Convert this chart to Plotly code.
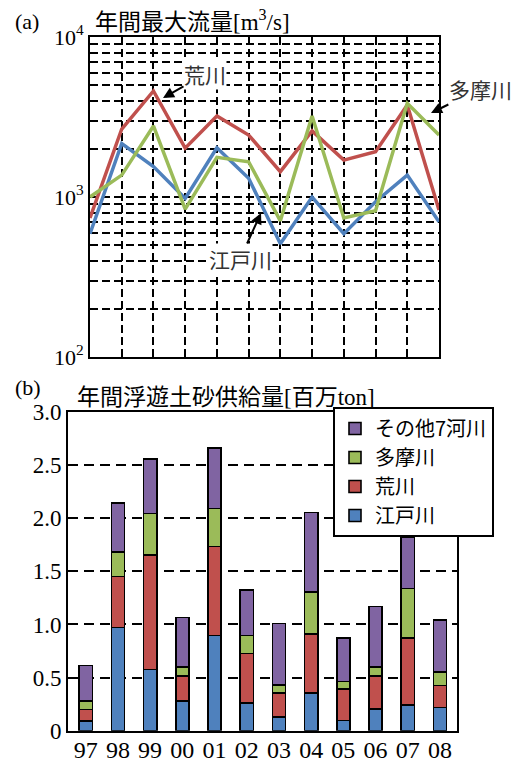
import plotly.graph_objects as go

# ---- data ----
years = ["97", "98", "99", "00", "01", "02", "03", "04", "05", "06", "07", "08"]

# (a) annual maximum discharge [m3/s]
arakawa_q = [740, 2660, 4600, 2020, 3210, 2440, 1440, 2590, 1700, 1920, 3760, 830]
tamagawa_q = [1000, 1370, 2780, 840, 1770, 1660, 710, 3210, 740, 820, 3850, 2440]
edogawa_q = [590, 2160, 1550, 980, 2030, 1310, 510, 1000, 590, 935, 1370, 700]

# (b) annual suspended sediment supply [million ton]
edogawa_s = [0.09, 0.97, 0.575, 0.28, 0.895, 0.26, 0.13, 0.355, 0.095, 0.205, 0.24, 0.22]
arakawa_s = [0.11, 0.48, 1.08, 0.235, 0.84, 0.465, 0.225, 0.555, 0.295, 0.31, 0.635, 0.205]
tamagawa_s = [0.08, 0.23, 0.39, 0.085, 0.355, 0.17, 0.075, 0.395, 0.075, 0.085, 0.465, 0.13]
others_s = [0.335, 0.465, 0.515, 0.465, 0.57, 0.43, 0.58, 0.75, 0.41, 0.57, 0.485, 0.485]

names = ["江戸川", "荒川", "多摩川", "その他7河川"]
colors = ["#4F81BD", "#C0504D", "#9BBB59", "#8064A2"]

W, H = 530, 762
SERIF = "Liberation Serif, Times New Roman, serif"
CJK = "Noto Sans CJK JP, sans-serif"

idx = list(range(len(years)))

fig = go.Figure()

# top lines
for vals, col in [(edogawa_q, colors[0]), (arakawa_q, colors[1]), (tamagawa_q, colors[2])]:
    fig.add_trace(go.Scatter(x=idx, y=vals, mode="lines", line=dict(color=col, width=3.5),
                             xaxis="x", yaxis="y", showlegend=False, hoverinfo="skip"))

# bottom stacked bars
for vals, name, col in zip([edogawa_s, arakawa_s, tamagawa_s, others_s], names, colors):
    fig.add_trace(go.Bar(x=idx, y=vals, name=name, width=0.41,
                         marker=dict(color=col, line=dict(color="black", width=1.6)),
                         xaxis="x2", yaxis="y2"))

# axis definitions
major_tv = [100, 1000, 10000]
major_tt = ["10<sup>2</sup>", "10<sup>3</sup>", "10<sup>4</sup>"]
minor_tv = [v * 100 for v in range(2, 10)] + [v * 1000 for v in range(2, 10)]

fig.update_layout(
    width=W, height=H,
    margin=dict(l=0, r=0, t=0, b=0, autoexpand=False),
    paper_bgcolor="white", plot_bgcolor="white",
    barmode="stack",
    font=dict(family=CJK, color="black"),
    xaxis=dict(domain=[90 / W, 439 / W], range=[0, 11], tickvals=list(range(1, 11)),
               showticklabels=False, ticks="", showgrid=True, gridcolor="black",
               griddash="8px,4px", gridwidth=1.6, showline=True, mirror=True,
               linecolor="black", linewidth=2, zeroline=False, anchor="y",
               automargin=False),
    yaxis=dict(domain=[1 - 357 / H, 1 - 37 / H], type="log", range=[2, 4],
               tickvals=major_tv, ticktext=major_tt, ticks="", showgrid=True,
               gridcolor="black", griddash="8px,4px", gridwidth=1.6,
               minor=dict(tickvals=minor_tv, showgrid=True, gridcolor="black",
                          griddash="8px,4px", gridwidth=1.6, ticks=""),
               showline=True, mirror=True,
               linecolor="black", linewidth=2, zeroline=False,
               tickfont=dict(family=SERIF, size=22, color="black"), anchor="x",
               automargin=False),
    xaxis2=dict(domain=[68 / W, 457 / W], range=[-0.55, 11.53], tickvals=idx,
                ticktext=years, ticks="", showgrid=False, showline=True, mirror=True,
                linecolor="black", linewidth=2, zeroline=False, ticklabelstandoff=-4,
                tickfont=dict(family=SERIF, size=24, color="black"), anchor="y2",
                automargin=False),
    yaxis2=dict(domain=[1 - 730.7 / H, 1 - 412 / H], range=[0, 3],
                tickvals=[0, 0.5, 1.0, 1.5, 2.0, 2.5, 3.0],
                ticktext=["0", "0.5", "1.0", "1.5", "2.0", "2.5", "3.0"],
                ticks="", showgrid=True, gridcolor="black", griddash="10px,6px",
                gridwidth=1.6, showline=True, mirror=True, linecolor="black",
                linewidth=2, zeroline=False,
                tickfont=dict(family=SERIF, size=23, color="black"), anchor="x2",
                automargin=False),
    legend=dict(x=333 / W, y=1 - 407 / H, xanchor="left", yanchor="top",
                traceorder="reversed", bgcolor="white", bordercolor="black",
                borderwidth=2, font=dict(family=CJK, size=20, color="black"),
                tracegroupgap=0),
    showlegend=True,
)

def px(x, y):
    return x / W, 1 - y / H

ann = []
# panel labels and titles
for txt, x, y, size in [("(a)", 13, 22, 22), ("(b)", 13, 387, 22)]:
    ax_, ay_ = px(x, y)
    ann.append(dict(text=txt, x=ax_, y=ay_, xref="paper", yref="paper", xanchor="left",
                    yanchor="middle", showarrow=False,
                    font=dict(family=SERIF, size=size, color="black")))

ax_, ay_ = px(93, 20)
ann.append(dict(text="年間最大流量<span style='font-family:Liberation Serif'>[m<sup>3</sup>/s]</span>",
                x=ax_, y=ay_, xref="paper", yref="paper", xanchor="left", yanchor="middle",
                showarrow=False, font=dict(family=CJK, size=23, color="black")))
ax_, ay_ = px(75, 395)
ann.append(dict(text="年間浮遊土砂供給量<span style='font-family:Liberation Serif'>[</span>百万<span style='font-family:Liberation Serif'>ton]</span>",
                x=ax_, y=ay_, xref="paper", yref="paper", xanchor="left", yanchor="middle",
                showarrow=False, font=dict(family=CJK, size=23, color="black")))

# river labels with arrows: (text, text centre, arrow tip)
for txt, (cx, cy), (tx, ty) in [("荒川", (205, 74), (163, 98)),
                                ("多摩川", (480, 89), (431, 113)),
                                ("江戸川", (240, 259), (261, 213))]:
    ax_, ay_ = px(tx, ty)
    ann.append(dict(text=txt, x=ax_, y=ay_, xref="paper", yref="paper",
                    showarrow=True, ax=cx - tx, ay=cy - ty, arrowhead=2, arrowsize=1.1,
                    arrowwidth=2, arrowcolor="black", bgcolor="white", borderpad=0,
                    font=dict(family=CJK, size=21, color="#333333")))

fig.update_layout(annotations=ann)

fig.write_html("out.html")
